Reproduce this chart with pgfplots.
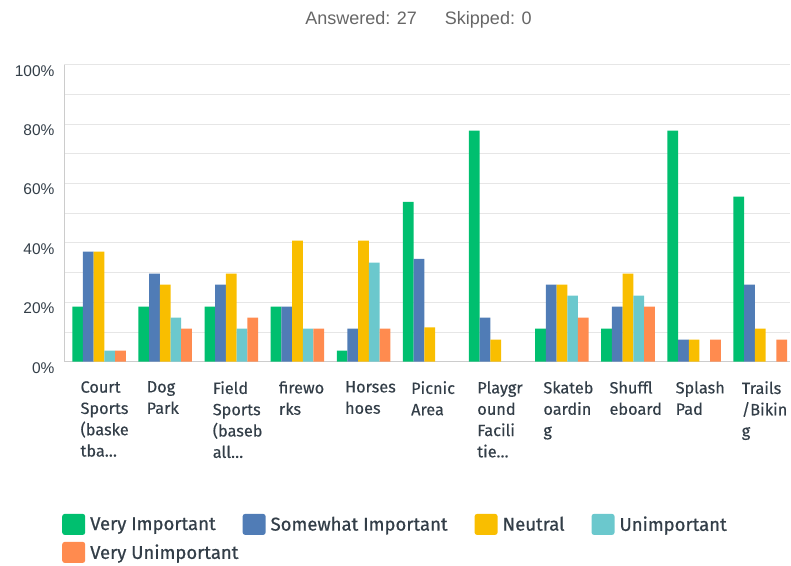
\documentclass[border=0pt]{standalone}
\usepackage{fontspec}
\setmainfont{Liberation Sans}
\newfontfamily\catfont{Fira Sans}[FakeBold=0.3]
\newfontfamily\legfont{Fira Sans}[FakeBold=0.7]
\usepackage{pgfplots}
\pgfplotsset{compat=1.18}
\definecolor{cVI}{HTML}{00BF6F}
\definecolor{cSI}{HTML}{507CB6}
\definecolor{cN}{HTML}{F9BE00}
\definecolor{cU}{HTML}{6BC8CD}
\definecolor{cVU}{HTML}{FF8B4F}
\definecolor{gridc}{HTML}{E6E6E6}
\definecolor{axc}{HTML}{CCCCCC}
\definecolor{txt}{HTML}{333E48}
\definecolor{ttl}{HTML}{666666}
\pgfplotsset{sq/.style={legend image code/.code={\fill[fill=#1, rounded corners=2.5pt] (0pt,-10.5pt) rectangle (23pt,10.5pt);}}}
\begin{document}
\begin{tikzpicture}
\path[use as bounding box] (0,0) rectangle (791pt,565pt);
\node[text=ttl, font=\fontsize{18}{20}\selectfont] at (418.5pt,545pt) {Answered: 27\hspace{28pt}Skipped: 0};
\begin{axis}[
  at={(64pt,203.3pt)}, anchor=south west,
  scale only axis, width=726pt, height=297pt,
  xmin=-0.53, xmax=10.45, ymin=0, ymax=100,
  axis lines=left, axis line style={-, draw=axc, line width=1pt},
  ytick={0,20,40,60,80,100}, minor ytick={10,30,50,70,90},
  ymajorgrids, yminorgrids,
  major grid style={draw=gridc, line width=0.9pt},
  minor grid style={draw=gridc, line width=0.9pt},
  major tick length=0pt, minor tick length=0pt,
  yticklabel={\pgfmathprintnumber{\tick}\%},
  yticklabel style={font=\fontsize{15.5}{17}\selectfont, text=txt, yshift=-6pt, xshift=-6pt},
  /pgf/number format/assume math mode=true,
  xtick={0,1,2,3,4,5,6,7,8,9,10},
  xticklabels={{Court\\Sports\\(baske\\tba\ldots},{Dog\\Park},{Field\\Sports\\(baseb\\all\ldots},{firewo\\rks},{Horses\\hoes},{Picnic\\Area},{Playgr\\ound\\Facili\\tie\ldots},{Skateb\\oardin\\g},{Shuffl\\eboard},{Splash\\Pad},{Trails\\/Bikin\\g}},
  xticklabel style={anchor=north west, xshift=-22pt, yshift=-16pt, align=left, font=\catfont\fontsize{16.3}{21.3}\selectfont, text=txt},
  legend columns=4,
  legend style={at={(axis description cs:0,0)}, anchor=north west, xshift=-2pt, yshift=-152pt, draw=none, fill=none,
    font=\legfont\fontsize{18.5}{20}\selectfont, text=txt, inner sep=0pt,
    /tikz/every odd column/.append style={column sep=3pt},
    /tikz/every even column/.append style={column sep=25pt},
    row sep=7pt},
  legend cell align=left,
]
\addplot[ybar, bar width=0.162, bar shift=-0.324, fill=cVI, draw=none, sq=cVI] coordinates {(0,18.52)(1,18.52)(2,18.52)(3,18.52)(4,3.70)(5,53.85)(6,77.78)(7,11.11)(8,11.11)(9,77.78)(10,55.56)};
\addlegendentry{Very Important}
\addplot[ybar, bar width=0.162, bar shift=-0.162, fill=cSI, draw=none, sq=cSI] coordinates {(0,37.04)(1,29.63)(2,25.93)(3,18.52)(4,11.11)(5,34.62)(6,14.81)(7,25.93)(8,18.52)(9,7.41)(10,25.93)};
\addlegendentry{Somewhat Important}
\addplot[ybar, bar width=0.162, bar shift=0, fill=cN, draw=none, sq=cN] coordinates {(0,37.04)(1,25.93)(2,29.63)(3,40.74)(4,40.74)(5,11.54)(6,7.41)(7,25.93)(8,29.63)(9,7.41)(10,11.11)};
\addlegendentry{Neutral}
\addplot[ybar, bar width=0.162, bar shift=0.162, fill=cU, draw=none, sq=cU] coordinates {(0,3.70)(1,14.81)(2,11.11)(3,11.11)(4,33.33)(7,22.22)(8,22.22)};
\addlegendentry{Unimportant}
\addplot[ybar, bar width=0.162, bar shift=0.324, fill=cVU, draw=none, sq=cVU] coordinates {(0,3.70)(1,11.11)(2,14.81)(3,11.11)(4,11.11)(7,14.81)(8,18.52)(9,7.41)(10,7.41)};
\addlegendentry{\makebox[0pt][l]{Very Unimportant}}
\end{axis}
\end{tikzpicture}
\end{document}
